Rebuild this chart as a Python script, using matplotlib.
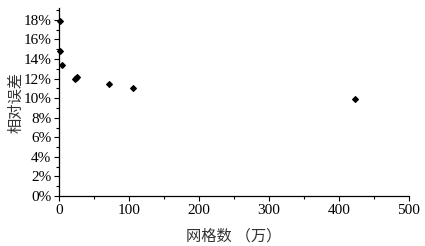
import matplotlib.pyplot as plt
from matplotlib.ticker import MultipleLocator, PercentFormatter

# grid count (10k) vs relative error (%)
grid_count = [1.5, 2.0, 4.0, 23.0, 24.5, 26.0, 71.0, 106.0, 423.0]
rel_error = [17.9, 14.8, 13.4, 12.0, 12.1, 12.2, 11.4, 11.05, 9.9]

plt.rcParams['font.family'] = ['Liberation Serif', 'Noto Sans CJK SC']
plt.rcParams['font.size'] = 11

fig = plt.figure(figsize=(4.25, 2.46), dpi=100)
ax = fig.add_axes([0.139, 0.203, 0.823, 0.764])

ax.scatter(grid_count, rel_error, marker='D', s=8, color='black', zorder=3, clip_on=False)

ax.set_xlim(0, 500)
ax.set_ylim(0, 19.2)
ax.xaxis.set_major_locator(MultipleLocator(100))
ax.xaxis.set_minor_locator(MultipleLocator(50))
ax.yaxis.set_major_locator(MultipleLocator(2))
ax.yaxis.set_minor_locator(MultipleLocator(1))
ax.yaxis.set_major_formatter(PercentFormatter(decimals=0))

ax.spines['top'].set_visible(False)
ax.spines['right'].set_visible(False)
for s in ['left', 'bottom']:
    ax.spines[s].set_linewidth(0.9)
ax.tick_params(which='major', direction='out', length=3.5, width=0.8)
ax.tick_params(which='minor', direction='out', length=2, width=0.8)
ax.tick_params(axis='both', pad=2)

ax.set_xlabel('网格数 （万）', fontsize=11, labelpad=9, color='#333333')
ax.set_ylabel('相对误差', fontsize=11, labelpad=0, color='#333333')

fig.savefig('out.png', dpi=100)
